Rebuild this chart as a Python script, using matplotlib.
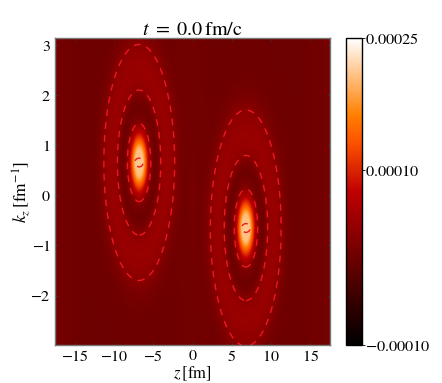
import numpy as np
import matplotlib
matplotlib.use("Agg")
import matplotlib.pyplot as plt

plt.rcParams['font.family'] = ['STIXGeneral', 'DejaVu Serif']
plt.rcParams['mathtext.fontset'] = 'stix'

W, H = 442, 383

# Humps: centre (z, k)
hump_z = [-6.8, 6.8]
hump_k = [0.66, -0.65]
z_per_k = 1.9  # ellipse aspect

# Value along hump axis (distance in k units) read via the colourbar, units 1e-5
profile_r = [0.0, 0.26, 0.33, 0.4, 0.5, 0.6, 0.78, 0.9, 1.1, 1.25, 1.45, 1.65, 1.9, 2.15, 2.36, 2.65, 3.0, 4.0, 9.0]
profile_v = [20.6, 20.6, 18.5, 15.5, 11.5, 7.5, 2.6, 1.0, 0.0, 0.5, 2.6, 3.7, 4.0, 3.4, 2.6, 1.0, 0.2, 0.0, 0.0]

# Narrow crest at the top of each core, circular on the page
crest_r = [0.0, 0.1, 0.2, 9.0]
crest_v = [0.6, 0.2, 0.0, 0.0]
crest_z_per_k = 6.25

# Faint vertical banding of the background
band_z = [-17.5, -15, -13, -3, 0, 3, 13, 15, 17.5]
band_v = [0.8, 0.3, 0.1, 0.1, 0.6, 0.1, 0.1, 0.3, 0.8]

levels = [2.7e-5, 20.95e-5]
x_ticks = [-15, -10, -5, 0, 5, 10, 15]
y_ticks = [-2, -1, 0, 1, 2, 3]
cbar_ticks = [-0.0001, 0.0001, 0.00025]
cbar_labels = ['$-0.00010$', '$0.00010$', '$0.00025$']
vmin, vmax = -0.0001, 0.00025

z = np.linspace(-17.5, 17.5, 700)
k = np.linspace(-2.99, 3.15, 700)
Z, K = np.meshgrid(z, k)
F = np.interp(Z, band_z, band_v)
for z0, k0 in zip(hump_z, hump_k):
    R = np.hypot((Z - z0) / z_per_k, K - k0)
    F = F + np.interp(R, profile_r, profile_v)
    R2 = np.hypot((Z - z0) / crest_z_per_k, K - k0)
    F = F + np.interp(R2, crest_r, crest_v)
F = F * 1e-5

fig = plt.figure(figsize=(W / 100, H / 100), dpi=100)
ax = fig.add_axes([55 / W, 1 - 345 / H, 275 / W, 307 / H])
im = ax.imshow(F, extent=[z[0], z[-1], k[0], k[-1]], origin='lower', aspect='auto',
               cmap='gist_heat', vmin=vmin, vmax=vmax, interpolation='bilinear')
ax.contour(Z, K, F, levels=levels, colors='#f01820', linewidths=1.0,
           linestyles=[(0, (4.8, 4.5))])
ax.set_xticks(x_ticks)
ax.set_yticks(y_ticks)
ax.set_xticklabels([f'${v}$' for v in x_ticks])
ax.set_yticklabels([f'${v}$' for v in y_ticks])
ax.tick_params(direction='in', length=2.5, width=0.6, labelsize=11.5, top=True, right=True,
               color='#333333', pad=3)
for s in ax.spines.values():
    s.set_linewidth(1.0)
    s.set_color('#777777')
ax.set_title(r'$t\ =\ 0.0\,\mathrm{fm/c}$', fontsize=14.5, pad=2)
ax.set_xlabel(r'$z\,[\mathrm{fm}]$', fontsize=12, labelpad=0.5)
ax.set_ylabel(r'$k_z\,[\mathrm{fm}^{-1}]$', fontsize=12.5, labelpad=-1)

cax = fig.add_axes([346 / W, 1 - 345 / H, 16 / W, 307 / H])
cb = fig.colorbar(im, cax=cax, ticks=cbar_ticks)
cb.ax.set_yticklabels(cbar_labels)
cb.ax.tick_params(length=2, width=0.6, labelsize=11.7, pad=0)
cb.outline.set_linewidth(1.0)

fig.savefig('out.png', dpi=100)
